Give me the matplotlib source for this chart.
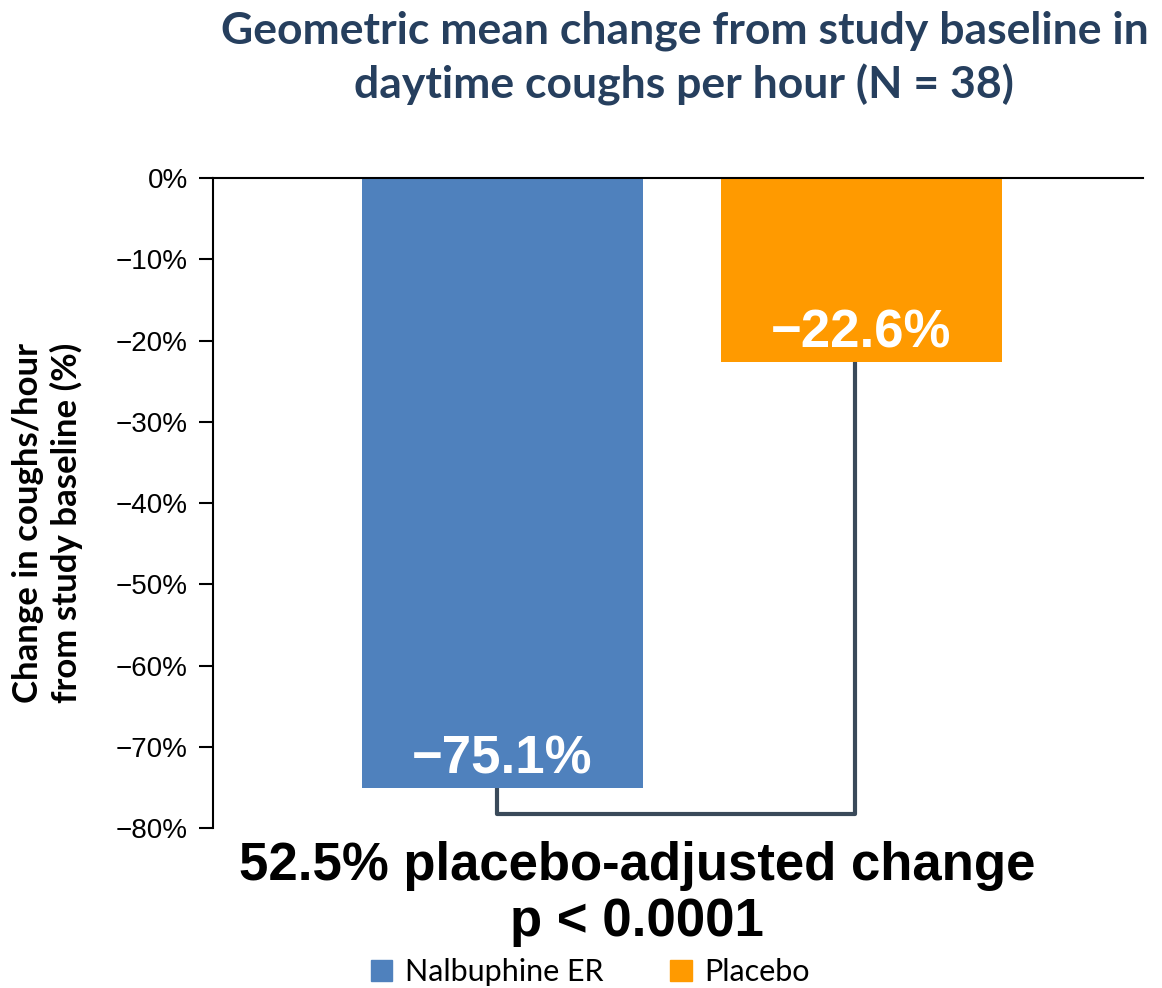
import matplotlib.pyplot as plt
from matplotlib.patches import Patch

groups = ["Nalbuphine ER", "Placebo"]
change = [-75.1, -22.6]
colors = ["#4F81BD", "#FF9A00"]
yticks = [0, -10, -20, -30, -40, -50, -60, -70, -80]
bracket_y = -78.3

fig = plt.figure(figsize=(11.62, 9.88), dpi=100)
ax = fig.add_axes([0.1833, 0.1619, 0.8003, 0.6579])

x = [0, 1]
ax.bar(x, change, width=0.783, color=colors, zorder=2)

ax.set_xlim(-0.806, 1.784)
ax.set_ylim(-80, 0)
ax.set_yticks(yticks)
ax.set_yticklabels(["0%"] + ["\u2212%d%%" % -t for t in yticks[1:]],
                   fontsize=20, family="Liberation Sans")
ax.tick_params(axis="y", direction="out", length=10, width=1.5, pad=8)
ax.set_xticks([])

for s in ["right", "bottom"]:
    ax.spines[s].set_visible(False)
ax.spines["left"].set_linewidth(1.5)
ax.spines["top"].set_linewidth(1.5)

# value labels inside the bars
ax.text(x[0], change[0] + 3.5, "\u221275.1%", ha="center", va="center",
        color="white", fontsize=38, fontweight="bold", family="Liberation Sans")
ax.text(x[1], change[1] + 3.5, "\u221222.6%", ha="center", va="center",
        color="white", fontsize=38, fontweight="bold", family="Liberation Sans")

# bracket linking the two bars
ax.plot([-0.015, -0.015, 0.982, 0.982],
        [change[0], bracket_y, bracket_y, change[1]],
        color="#3A4A5A", linewidth=3, zorder=1, clip_on=False)

ax.set_ylabel("Change in coughs/hour\nfrom study baseline (%)", fontsize=25,
              fontweight="bold", family="Lato", linespacing=1.2)
ax.yaxis.set_label_coords(-0.14, 0.47)

fig.text(0.589, 0.941, "Geometric mean change from study baseline in\n"
         "daytime coughs per hour (N = 38)", ha="center", va="center",
         fontsize=32, fontweight="bold", color="#263F5E", family="Lato",
         linespacing=1.38)

fig.text(0.548, 0.095, "52.5% placebo-adjusted change\np < 0.0001",
         ha="center", va="center", fontsize=38, fontweight="bold",
         family="Liberation Sans", linespacing=1.15)

handles = [Patch(color=c) for c in colors]
fig.legend(handles, groups, loc="center", bbox_to_anchor=(0.508, 0.016),
           ncol=2, frameon=False, handlelength=0.7, handleheight=0.7,
           columnspacing=2.2, handletextpad=0.4,
           prop={"family": "Lato", "size": 22})

fig.savefig("out.png", dpi=100)
